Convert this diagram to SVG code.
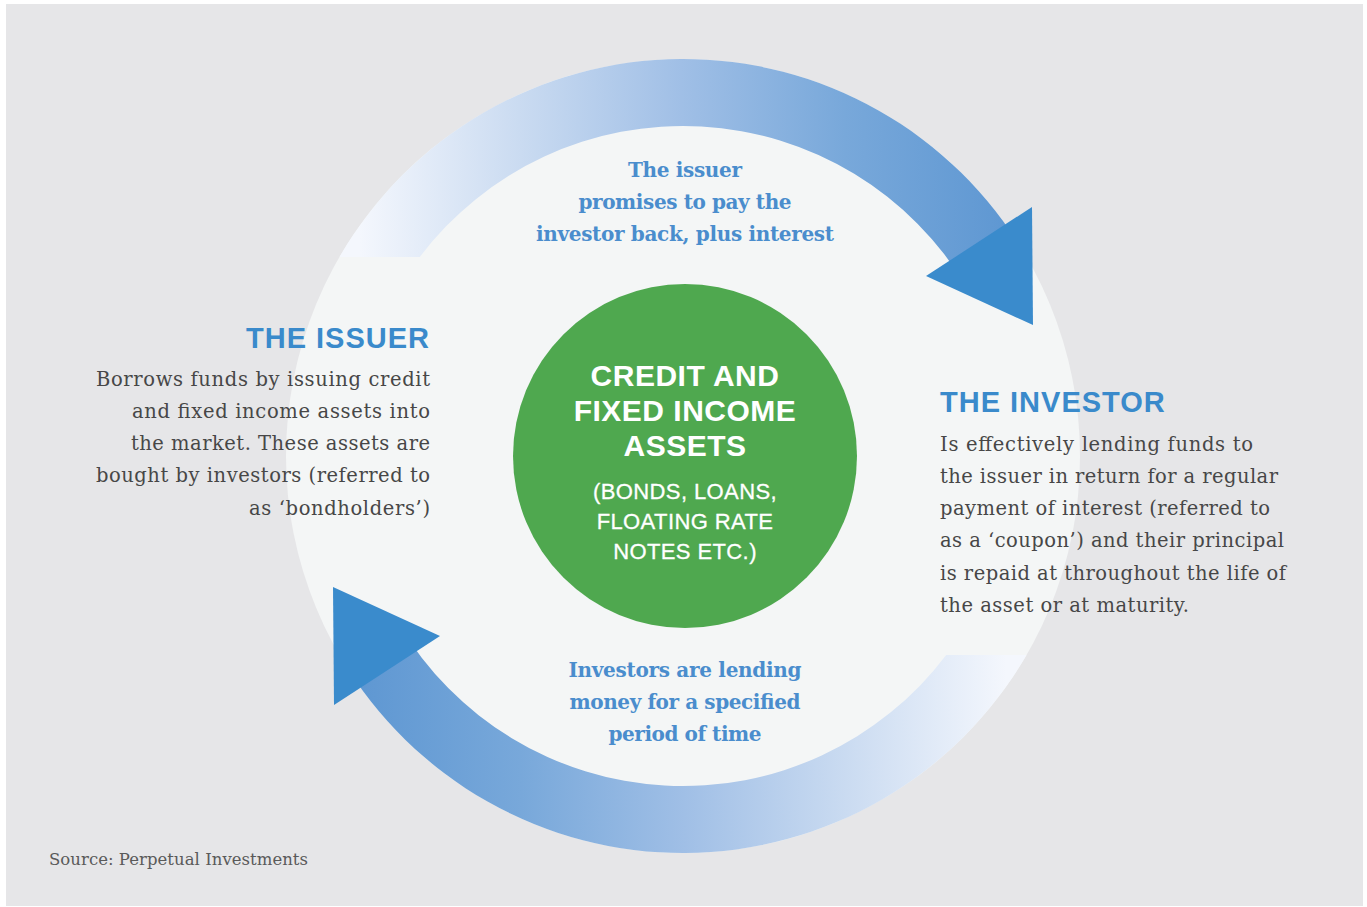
<svg xmlns="http://www.w3.org/2000/svg" xmlns:xlink="http://www.w3.org/1999/xlink" width="1367" height="907" viewBox="0 0 1367 907">
  <style>
    .body { font-family: "DejaVu Serif", "Liberation Serif", serif; font-size: 19.5px; fill: #474747; }
    .arclbl { font-family: "DejaVu Serif", "Liberation Serif", serif; font-size: 20px; font-weight: bold; fill: #4a8dcd; text-anchor: middle; }
    .head { font-family: "Liberation Sans", Arial, sans-serif; font-size: 29px; font-weight: bold; fill: #3a8acb; letter-spacing: 1px; }
    .ctr { font-family: "Liberation Sans", Arial, sans-serif; font-weight: bold; fill: #ffffff; text-anchor: middle; font-size: 30px; letter-spacing: 0.5px; }
    .ctrsub { font-family: "Liberation Sans", Arial, sans-serif; fill: #ffffff; text-anchor: middle; font-size: 22px; letter-spacing: 0.4px; stroke: #ffffff; stroke-width: 0.3px; }
    .src { font-family: "DejaVu Serif", "Liberation Serif", serif; font-size: 16.5px; fill: #5a5a5a; }
    .tri { fill: #3a8bcc; }
  </style>
  <defs>
    <linearGradient id="arcGrad" gradientUnits="userSpaceOnUse" x1="360" y1="250" x2="1010" y2="235">
      <stop offset="0" stop-color="#f4f7fd"/>
      <stop offset="0.25" stop-color="#cadbf1"/>
      <stop offset="0.5" stop-color="#a0bfe6"/>
      <stop offset="0.75" stop-color="#78a8da"/>
      <stop offset="1" stop-color="#5e97d2"/>
    </linearGradient>
    <g id="arrowShape">
      <path d="M 339.5 257 A 397 397 0 0 1 1024.4 253.3 L 966.8 287.5 A 330 330 0 0 0 419.8 257 Z" fill="url(#arcGrad)"/>
      <polygon class="tri" points="926,276 1032,207 1033,325"/>
    </g>
  </defs>

  <rect x="6" y="4" width="1357" height="902" fill="#e6e6e8"/>
  <circle cx="683" cy="456" r="397" fill="#f4f6f6"/>

  <g id="connectors">
    <use id="arrow-issuer-to-investor" xlink:href="#arrowShape"/>
    <use id="arrow-investor-to-issuer" xlink:href="#arrowShape" transform="rotate(180 683 456)"/>
  </g>

  <g id="label-top">
    <text class="arclbl" x="685" y="177" textLength="114">The issuer</text>
    <text class="arclbl" x="685" y="209" textLength="213">promises to pay the</text>
    <text class="arclbl" x="685" y="241" textLength="298">investor back, plus interest</text>
  </g>

  <g id="label-bottom">
    <text class="arclbl" x="685" y="677" textLength="233">Investors are lending</text>
    <text class="arclbl" x="685" y="709" textLength="231">money for a specified</text>
    <text class="arclbl" x="685" y="741" textLength="153">period of time</text>
  </g>

  <g id="center">
    <circle cx="685" cy="456" r="172" fill="#4fa84f"/>
    <text class="ctr" x="685" y="386">CREDIT AND</text>
    <text class="ctr" x="685" y="421">FIXED INCOME</text>
    <text class="ctr" x="685" y="456">ASSETS</text>
    <text class="ctrsub" x="685" y="499">(BONDS, LOANS,</text>
    <text class="ctrsub" x="685" y="529">FLOATING RATE</text>
    <text class="ctrsub" x="685" y="559">NOTES ETC.)</text>
  </g>

  <g id="issuer">
    <text class="head" x="430" y="348" text-anchor="end">THE ISSUER</text>
    <g text-anchor="end">
      <text class="body" x="430" y="386" textLength="334">Borrows funds by issuing credit</text>
      <text class="body" x="430" y="418" textLength="298">and fixed income assets into</text>
      <text class="body" x="430" y="450" textLength="299">the market. These assets are</text>
      <text class="body" x="430" y="482" textLength="334">bought by investors (referred to</text>
      <text class="body" x="430" y="515" textLength="181">as ‘bondholders’)</text>
    </g>
  </g>

  <g id="investor">
    <text class="head" x="940" y="412">THE INVESTOR</text>
    <text class="body" x="940" y="451" textLength="313">Is effectively lending funds to</text>
    <text class="body" x="940" y="483" textLength="338">the issuer in return for a regular</text>
    <text class="body" x="940" y="515" textLength="330">payment of interest (referred to</text>
    <text class="body" x="940" y="547" textLength="344">as a ‘coupon’) and their principal</text>
    <text class="body" x="940" y="580" textLength="346">is repaid at throughout the life of</text>
    <text class="body" x="940" y="612" textLength="249">the asset or at maturity.</text>
  </g>

  <g id="source">
    <text class="src" x="49" y="865" textLength="259">Source: Perpetual Investments</text>
  </g>
</svg>
